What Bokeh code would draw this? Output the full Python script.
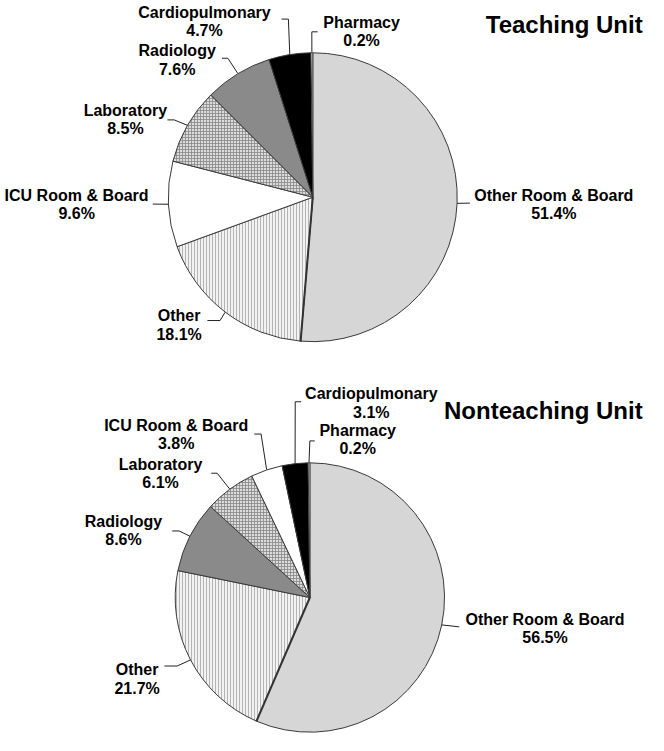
import math
from bokeh.plotting import figure
from bokeh.models import Range1d, ColumnDataSource
from bokeh.core.properties import value
from bokeh.embed import file_html
from bokeh.resources import INLINE

# ---------------- data ----------------
titles = ["Teaching Unit", "Nonteaching Unit"]

# slices listed clockwise starting at 12 o'clock
teaching_categories = ["Other Room & Board", "Other", "ICU Room & Board", "Laboratory",
                       "Radiology", "Cardiopulmonary", "Pharmacy"]
teaching_pct = [51.4, 18.1, 9.6, 8.5, 7.6, 4.7, 0.2]

nonteaching_categories = ["Other Room & Board", "Other", "Radiology", "Laboratory",
                          "ICU Room & Board", "Cardiopulmonary", "Pharmacy"]
nonteaching_pct = [56.5, 21.7, 8.6, 6.1, 3.8, 3.1, 0.2]

# ---------------- styles ----------------
STYLE = {
    "Other Room & Board": dict(fill="#d6d6d6", hatch=" ", hcolor="#d6d6d6", hscale=3),
    "Other": dict(fill="#f2f2f2", hatch="|", hcolor="#a4a4a4", hscale=3),
    "ICU Room & Board": dict(fill="#ffffff", hatch=" ", hcolor="#ffffff", hscale=3),
    "Laboratory": dict(fill="#dcdcdc", hatch="+", hcolor="#868686", hscale=3),
    "Radiology": dict(fill="#8a8a8a", hatch=" ", hcolor="#8a8a8a", hscale=3),
    "Cardiopulmonary": dict(fill="#000000", hatch=" ", hcolor="#000000", hscale=3),
    "Pharmacy": dict(fill="#ffffff", hatch=" ", hcolor="#ffffff", hscale=3),
}

# ---------------- layout (reference pixel coordinates, 664 x 751 canvas) ----------------
REF_W, REF_H = 664, 751
PIES = [dict(cx=320, cy=201, r=148, title_y=25),
        dict(cx=317, cy=610, r=138, title_y=419)]

# label: (text centre x, first line centre y, leader points after the edge point)
LABELS = [
    {
        "Other Room & Board": (567, 199, [(481, 207)]),
        "Other": (183, 322, [(225, 327), (212, 327)]),
        "ICU Room & Board": (78, 199, [(156, 208)]),
        "Laboratory": (128, 112, [(178, 122), (171, 122)]),
        "Radiology": (181, 51, [(233, 59), (227, 59)]),
        "Cardiopulmonary": (209, 12, [(295, 19), (288, 19)]),
        "Pharmacy": (370, 22, [(319, 32), (325, 32)]),
    },
    {
        "Other Room & Board": (558, 632, [(470, 640)]),
        "Other": (140, 684, [(181, 680), (168, 680)]),
        "Radiology": (126, 532, [(183, 542), (176, 542)]),
        "Laboratory": (164, 474, [(222, 483), (216, 483)]),
        "ICU Room & Board": (180, 434, [(267, 443), (260, 443)]),
        "Cardiopulmonary": (380, 402, [(302, 410), (308, 410)]),
        "Pharmacy": (366, 439, [(317, 450), (322, 450)]),
    },
]

W, H = 648, 735


def Y(yp):
    return REF_H - yp


p = figure(width=W, height=H, x_range=Range1d(0, REF_W), y_range=Range1d(0, REF_H),
           output_backend="svg", toolbar_location=None, min_border=0,
           x_axis_location=None, y_axis_location=None)
p.grid.visible = False
p.outline_line_color = None
p.background_fill_color = "white"

FONT = value("Liberation Sans")
FS = "16px"

for pie, cats, vals, title, labels in zip(PIES, [teaching_categories, nonteaching_categories],
                                          [teaching_pct, nonteaching_pct], titles, LABELS):
    total = sum(vals)
    cx, cy, r = pie["cx"], pie["cy"], pie["r"]
    starts, ends, mids, bounds = [], [], [], []
    acc = 0.0
    for v in vals:
        t1 = acc / total * 360.0
        acc += v
        t2 = acc / total * 360.0
        starts.append(math.radians(90 - t2))
        ends.append(math.radians(90 - t1))
        mids.append((t1 + t2) / 2)
        bounds.append(t2)
    src = ColumnDataSource(dict(
        x=[cx] * len(vals), y=[Y(cy)] * len(vals),
        start=starts, end=ends,
        fill=[STYLE[c]["fill"] for c in cats],
        hatch=[STYLE[c]["hatch"] for c in cats],
        hcolor=[STYLE[c]["hcolor"] for c in cats],
        hscale=[STYLE[c]["hscale"] for c in cats],
    ))
    p.wedge(x="x", y="y", radius=r, start_angle="start", end_angle="end", source=src,
            fill_color="fill", line_color="#3a3a3a", line_width=1,
            hatch_pattern="hatch", hatch_color="hcolor", hatch_scale="hscale",
            hatch_weight=0.8)

    # darker boundary between "Other Room & Board" and "Other"
    b = math.radians(bounds[0])
    p.line(x=[cx, cx + r * math.sin(b)], y=[Y(cy), Y(cy - r * math.cos(b))],
           line_color="#333333", line_width=2)

    # leaders + labels
    xs, ys = [], []
    tx, ty1, ty2, names, pcts = [], [], [], [], []
    for c, v, m in zip(cats, vals, mids):
        lx, ly, pts = labels[c]
        ex = cx + r * math.sin(math.radians(m))
        ey = cy - r * math.cos(math.radians(m))
        xs.append([ex] + [q[0] for q in pts])
        ys.append([Y(ey)] + [Y(q[1]) for q in pts])
        tx.append(lx)
        ty1.append(Y(ly))
        ty2.append(Y(ly + 19))
        names.append(c)
        pcts.append(f"{v:.1f}%")
    p.multi_line(xs=xs, ys=ys, line_color="#222222", line_width=1)
    p.text(x=tx, y=ty1, text=names, text_font=FONT, text_font_style="bold",
           text_font_size=FS, text_align="center", text_baseline="middle",
           text_color="black")
    p.text(x=tx, y=ty2, text=pcts, text_font=FONT, text_font_style="bold",
           text_font_size=FS, text_align="center", text_baseline="middle",
           text_color="black")
    p.text(x=[658], y=[Y(pie["title_y"])], text=[title], text_font=FONT,
           text_font_style="bold", text_font_size="24px", text_align="right",
           text_baseline="middle", text_color="black")

open("out.html", "w").write(file_html(p, INLINE))
